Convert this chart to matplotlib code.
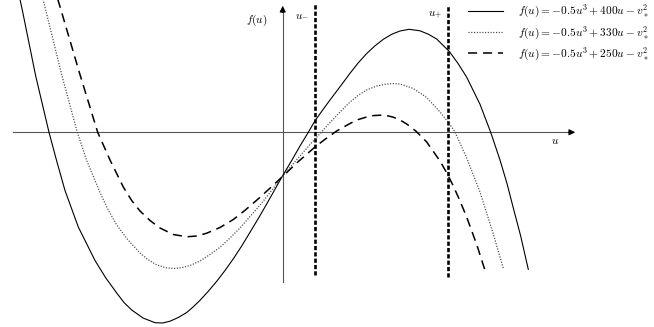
import matplotlib.pyplot as plt

plt.rcParams['mathtext.fontset'] = 'cm'

# curve points (u, f in arbitrary units)
u_400 = [-26.35, -26.02, -24.68, -23.35, -22.58, -21.75, -20.42, -18.75, -17.70, -16.58,
         -15.85, -15.08, -13.95, -12.75, -12.00, -11.25, -10.42, -9.58, -8.92, -8.25,
         -7.42, -6.58, -5.75, -4.92, -4.08, -3.25, -2.42, -1.58, -0.08, 0.92,
         1.75, 2.58, 3.25, 4.00, 4.75, 5.92, 6.75, 7.58, 8.42, 9.25,
         10.08, 10.92, 11.75, 12.65, 13.75, 14.58, 15.42, 16.68, 17.55, 18.42,
         19.75, 20.82, 21.75, 22.45, 23.08, 23.80, 24.58]
f_400 = [13.73, 12.23, 5.63, 0.00, -2.87, -5.82, -9.47, -12.82, -14.52, -16.07,
         -17.02, -17.77, -18.57, -19.04, -19.07, -18.89, -18.52, -18.02, -17.45, -16.80,
         -15.90, -14.90, -13.82, -12.65, -11.37, -10.00, -8.62, -7.17, -4.50, -2.82,
         -1.37, 0.00, 1.15, 2.21, 3.23, 4.78, 5.90, 6.95, 7.88, 8.65,
         9.30, 9.80, 10.13, 10.30, 10.15, 9.81, 9.33, 8.08, 6.89, 5.51,
         2.80, 0.00, -2.77, -5.12, -7.57, -10.30, -13.70]

u_330 = [-24.05, -23.68, -22.10, -20.52, -19.58, -18.25, -17.45, -16.58, -15.45, -14.25,
         -13.45, -12.58, -11.75, -10.92, -10.08, -9.25, -8.25, -7.25, -6.25, -5.25,
         -4.25, -3.42, -2.58, -1.75, -0.92, -0.08, 0.75, 1.75, 2.75, 3.92,
         4.75, 5.75, 6.75, 7.58, 8.42, 9.42, 10.42, 11.08, 11.75, 13.08,
         14.42, 15.75, 16.68, 17.25, 18.42, 19.75, 21.08, 22.08]
f_330 = [13.73, 12.23, 5.83, 0.00, -2.82, -6.02, -7.72, -9.27, -10.77, -12.07,
         -12.74, -13.25, -13.53, -13.62, -13.54, -13.32, -12.87, -12.22, -11.50, -10.57,
         -9.57, -8.62, -7.67, -6.67, -5.60, -4.50, -3.52, -2.37, -1.22, 0.05,
         0.98, 2.03, 3.03, 3.70, 4.23, 4.63, 4.83, 4.87, 4.83, 4.38,
         3.48, 2.03, 0.88, 0.03, -2.57, -5.97, -10.17, -13.60]

u_250 = [-22.60, -22.15, -20.30, -18.48, -17.25, -15.92, -15.08, -14.25, -13.25, -12.25,
         -10.92, -9.58, -8.58, -7.58, -6.25, -4.92, -3.75, -2.50, -1.25, -0.08,
         1.42, 3.25, 4.25, 5.42, 6.75, 7.58, 8.42, 9.08, 9.75, 10.42,
         11.05, 11.75, 12.42, 13.35, 14.42, 15.75, 16.42, 17.08, 17.75, 18.42,
         19.42, 20.32]
f_250 = [13.73, 12.23, 5.93, 0.00, -2.77, -5.47, -6.82, -7.87, -8.82, -9.57,
         -10.22, -10.45, -10.37, -10.09, -9.52, -8.72, -7.80, -6.72, -5.59, -4.50,
         -3.07, -1.47, -0.70, 0.13, 0.88, 1.28, 1.53, 1.67, 1.71, 1.67,
         1.52, 1.23, 0.83, 0.11, -0.97, -2.87, -4.05, -5.37, -6.86, -8.49,
         -11.22, -14.02]

a_values = [400, 330, 250]
u_minus = 3.25
u_plus = 16.6

fig = plt.figure(figsize=(6.54, 3.27), dpi=100)
ax = fig.add_axes([0, 0, 1, 1])
ax.set_xlim(-28.25, 37.15)
ax.set_ylim(-19.47, 13.23)
ax.axis('off')

# axes with arrows
ax.plot([-26.95, 28.8], [0, 0], color='#555555', lw=0.8)
ax.plot([0.02, 0.02], [-14.97, 12.2], color='#555555', lw=0.8)
ax.annotate('', xy=(29.55, 0), xytext=(28.3, 0),
            arrowprops=dict(arrowstyle='-|>', color='black', lw=0.8, mutation_scale=9))
ax.annotate('', xy=(0.02, 12.93), xytext=(0.02, 11.7),
            arrowprops=dict(arrowstyle='-|>', color='black', lw=0.8, mutation_scale=9))

# u- and u+ markers
ax.plot([u_minus, u_minus], [-14.27, 12.93], color='black', lw=1.9, dashes=(1.6, 0.8))
ax.plot([u_plus, u_plus], [-14.47, 12.73], color='black', lw=1.9, dashes=(1.6, 0.8))

labels = [r'$f(u)=-0.5u^3+%du-v_*^2$' % a for a in a_values]
ax.plot(u_400, f_400, color='black', lw=0.8, label=labels[0])
ax.plot(u_330, f_330, color='#444444', lw=0.9, linestyle=(0, (0.9, 1.3)), label=labels[1])
ax.plot(u_250, f_250, color='black', lw=1.1, dashes=(6, 3.8), label=labels[2])

ax.text(-2.55, 11.2, r'$f(u)$', fontsize=8, ha='center', va='center')
ax.text(1.9, 11.7, r'$u_{-}$', fontsize=8, ha='center', va='center')
ax.text(15.25, 11.8, r'$u_{+}$', fontsize=8, ha='center', va='center')
ax.text(27.25, -0.9, r'$u$', fontsize=8, ha='center', va='center')

ax.legend(loc='upper left', bbox_to_anchor=(468 / 654, 1 - 3 / 327), frameon=False,
          fontsize=8.2, handlelength=3.1, handletextpad=1.3, labelspacing=0.38,
          borderpad=0, borderaxespad=0)

fig.savefig('out.png', dpi=100)
